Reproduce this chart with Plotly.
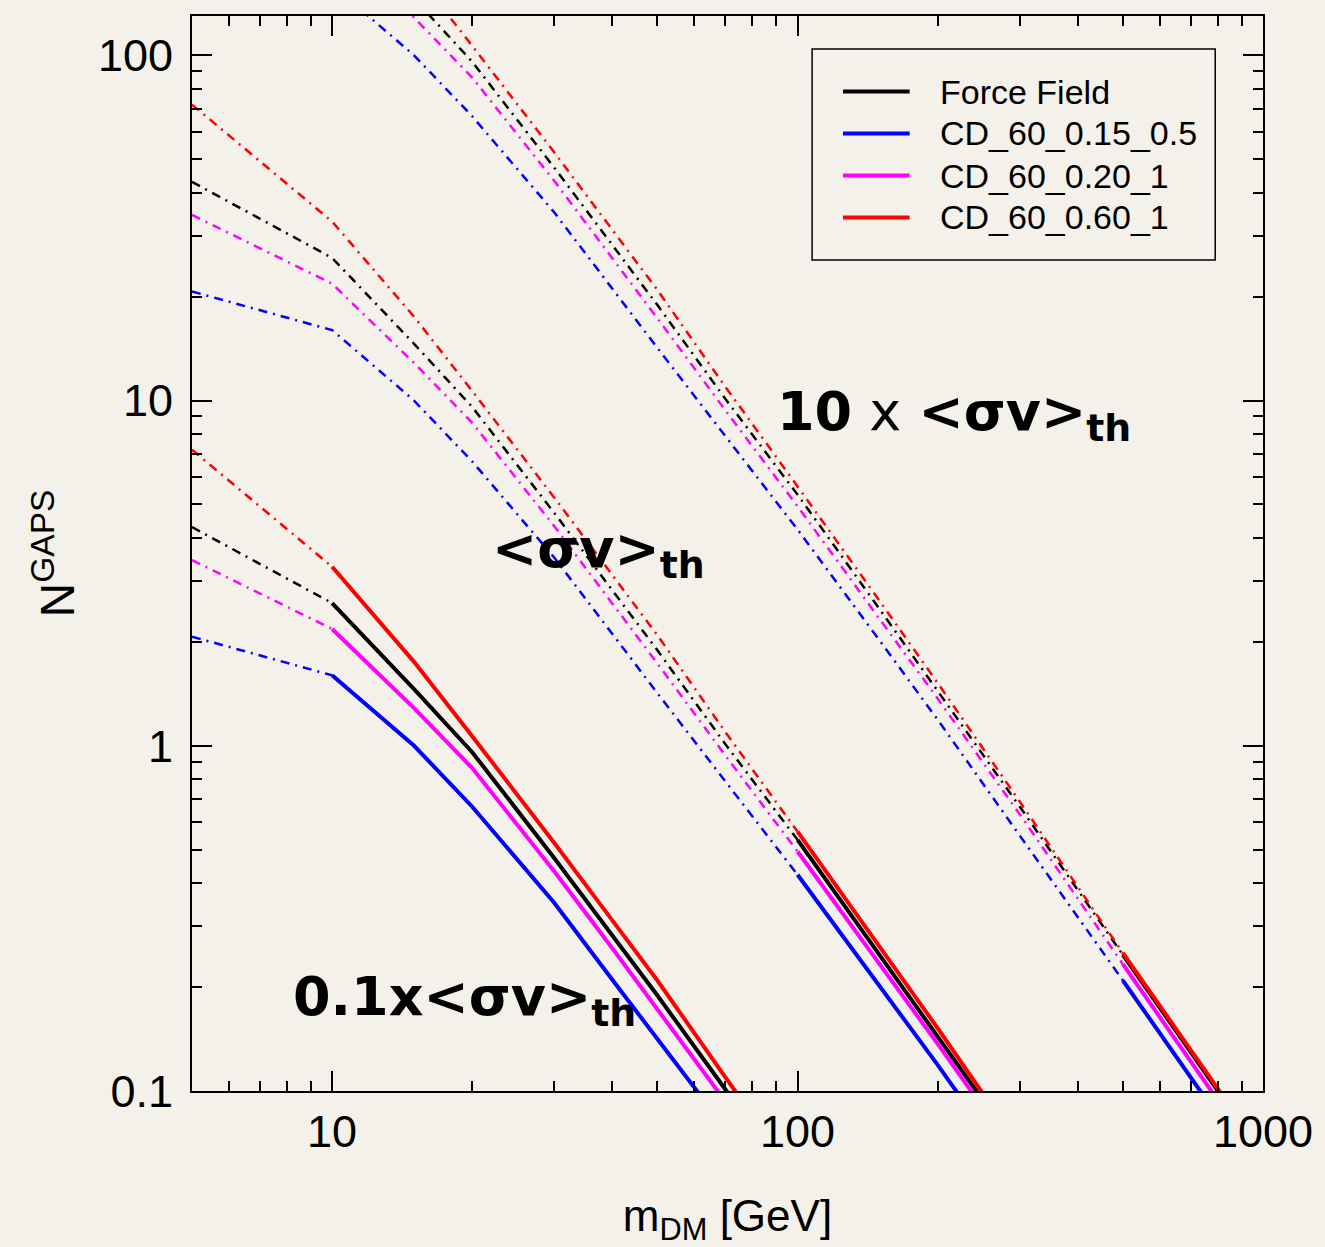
import numpy as np
import plotly.graph_objects as go

# ---------------- data ----------------
# DM mass grid [GeV]
mass = [5, 10, 15, 20, 30, 40, 50, 70, 100, 150, 200, 300, 500, 700, 1000]

# Number of GAPS antideuteron events for the thermal cross section <sigma v>_th
n_force_field = [43.0, 25.9, 14.6, 9.58, 4.73, 2.82, 1.89, 1.01, 0.534, 0.249, 0.144, 0.0667, 0.0248, 0.0130, 0.0065]
n_cd_60_015_05 = [20.7, 16.0, 10.0, 6.66, 3.51, 2.10, 1.42, 0.788, 0.423, 0.202, 0.119, 0.055, 0.0209, 0.01095, 0.0055]
n_cd_60_020_1 = [34.5, 21.8, 12.85, 8.62, 4.33, 2.59, 1.73, 0.936, 0.494, 0.233, 0.137, 0.0634, 0.0233, 0.0122, 0.0061]
n_cd_60_060_1 = [72.0, 33.0, 17.5, 10.65, 5.24, 3.12, 2.09, 1.095, 0.564, 0.263, 0.152, 0.069, 0.0251, 0.01315, 0.0066]

series_names = ["Force Field", "CD_60_0.15_0.5", "CD_60_0.20_1", "CD_60_0.60_1"]
series_values = [n_force_field, n_cd_60_015_05, n_cd_60_020_1, n_cd_60_060_1]
series_colors = ["#000000", "#0000ff", "#ff00ff", "#ff0000"]

# cross-section multipliers and the mass from which each band is drawn solid
xsec_scale = [0.1, 1.0, 10.0]
solid_from = [10, 100, 500]

x_major = [10, 100, 1000]
x_major_text = ["10", "100", "1000"]
y_major = [0.1, 1, 10, 100]
y_major_text = ["0.1", "1", "10", "100"]

BG = "#f4f1ea"
W, H = 1325, 1247
ML, MR, MT, MB = 192, 57, 16, 156

fig = go.Figure()

for name, vals, col in zip(series_names, series_values, series_colors):
    for k, (sc, thr) in enumerate(zip(xsec_scale, solid_from)):
        xd = [m for m in mass if m <= thr]
        yd = [v * sc for m, v in zip(mass, vals) if m <= thr]
        xs = [m for m in mass if m >= thr]
        ys = [v * sc for m, v in zip(mass, vals) if m >= thr]
        fig.add_trace(go.Scatter(
            x=xd, y=yd, mode="lines", name=name, legendgroup=name, showlegend=False,
            line=dict(color=col, width=2.5, dash="9px,6px,2px,6px"), hoverinfo="skip"))
        fig.add_trace(go.Scatter(
            x=xs, y=ys, mode="lines", name=name, legendgroup=name,
            showlegend=False, line=dict(color=col, width=4)))

minor_x = [6, 7, 8, 9] + [d * 10 for d in range(2, 10)] + [d * 100 for d in range(2, 10)]
minor_y = [d * 0.1 for d in range(2, 10)] + list(range(2, 10)) + [d * 10 for d in range(2, 10)]

axis_common = dict(
    showline=True, linecolor="black", linewidth=2, mirror="allticks",
    ticks="inside", ticklen=20, tickwidth=2, tickcolor="black",
    showgrid=False, zeroline=False,
    tickfont=dict(size=45, color="black"),
)

fig.update_xaxes(
    type="log", range=[np.log10(5), 3],
    tickmode="array", tickvals=x_major, ticktext=x_major_text,
    minor=dict(tickmode="array", tickvals=minor_x, ticks="inside", ticklen=10,
               tickwidth=2, tickcolor="black", showgrid=False),
    ticklabelstandoff=0,
    title=dict(text="m<sub>DM</sub> [GeV]", font=dict(size=44, color="black"), standoff=46),
    **axis_common)
fig.update_yaxes(
    type="log", range=[-1, np.log10(130)],
    tickmode="array", tickvals=y_major, ticktext=y_major_text,
    minor=dict(tickmode="array", tickvals=minor_y, ticks="inside", ticklen=10,
               tickwidth=2, tickcolor="black", showgrid=False),
    ticklabelstandoff=8,
    title=dict(text="N<sup>GAPS</sup>", font=dict(size=48, color="black"), standoff=8),
    **axis_common)

pw = W - ML - MR
ph = H - MT - MB
def px(xp):
    return (xp - ML) / pw
def py(yp):
    return (H - MB - yp) / ph

ann_font = dict(family="DejaVu Sans", size=54, color="black")
fig.add_annotation(xref="paper", yref="paper", x=px(291), y=py(1000), xanchor="left", yanchor="middle",
                   text="<b>0.1x&lt;σv&gt;<sub>th</sub></b>", showarrow=False, font=ann_font)
fig.add_annotation(xref="paper", yref="paper", x=px(491), y=py(552), xanchor="left", yanchor="middle",
                   text="<b>&lt;σv&gt;<sub>th</sub></b>", showarrow=False, font=ann_font)
fig.add_annotation(xref="paper", yref="paper", x=px(778), y=py(415), xanchor="left", yanchor="middle",
                   text="<b>10</b> x <b>&lt;σv&gt;<sub>th</sub></b>", showarrow=False, font=ann_font)

# legend: frame, key lines and labels
legend_rows = [91.5, 133.5, 175.5, 217.5]
fig.add_shape(type="rect", xref="paper", yref="paper",
              x0=px(815), x1=px(1220), y0=py(260), y1=py(49),
              line=dict(color="black", width=1.5), fillcolor="rgba(0,0,0,0)")
for name, col, ry in zip(series_names, series_colors, legend_rows):
    fig.add_shape(type="line", xref="paper", yref="paper",
                  x0=px(846), x1=px(913), y0=py(ry), y1=py(ry),
                  line=dict(color=col, width=4))
    fig.add_annotation(xref="paper", yref="paper", x=px(941), y=py(ry),
                       xanchor="left", yanchor="middle", text=name, showarrow=False,
                       font=dict(family="Liberation Sans, Arial, sans-serif", size=34, color="black"))

fig.update_layout(
    width=W, height=H,
    margin=dict(l=ML, r=MR, t=MT, b=MB),
    paper_bgcolor=BG, plot_bgcolor=BG,
    font=dict(family="Liberation Sans, Arial, sans-serif", color="black", size=45),
    showlegend=False,
)

fig.write_html("out.html")
